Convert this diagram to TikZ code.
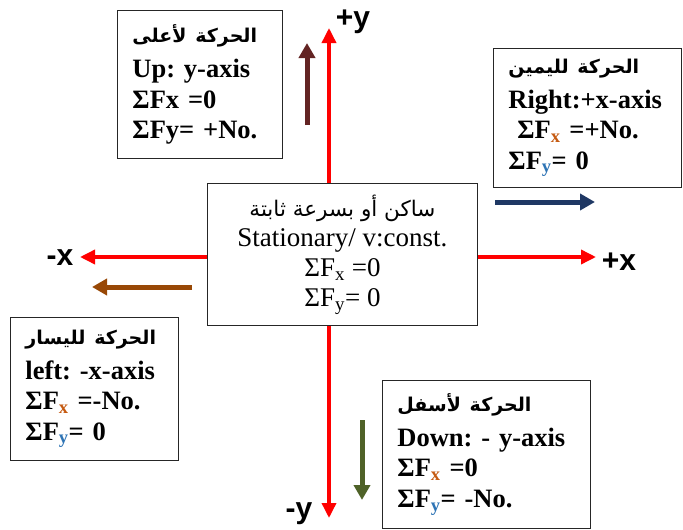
\documentclass[tikz,border=0pt]{standalone}
\usepackage{fontspec}
\setmainfont{Liberation Serif}
\newfontfamily\arabicfont[Script=Arabic]{DejaVu Sans}
\newfontfamily\lblfont{Liberation Sans}
\TeXXeTstate=1
\usetikzlibrary{arrows.meta}
\definecolor{axisred}{HTML}{FF0000}
\definecolor{upbrown}{HTML}{632423}
\definecolor{rightblue}{HTML}{1F3864}
\definecolor{leftbrown}{HTML}{984806}
\definecolor{downgreen}{HTML}{4F6228}
\definecolor{subx}{HTML}{C55A11}
\definecolor{suby}{HTML}{2E74B5}
\newcommand{\ar}[1]{{\arabicfont\fontsize{19}{22}\selectfont\beginR #1\endR}}
\newcommand{\sx}{\textsubscript{\textcolor{subx}{x}}}
\newcommand{\sy}{\textsubscript{\textcolor{suby}{y}}}
\frenchspacing
\tikzset{
  box/.style={draw=black!85, line width=0.9pt, anchor=north west, align=left,
    inner xsep=15pt, inner ysep=0pt,
    font=\bfseries\fontsize{26.5}{30.5}\selectfont},
  axisarrow/.style={draw=axisred, line width=3.5pt, -{Triangle[length=15pt,width=14pt]}},
  motion/.style={line width=5pt, -{Triangle[length=15pt,width=16pt]}},
  axlbl/.style={font=\lblfont\bfseries\fontsize{30}{30}\selectfont, inner sep=0pt}
}
\begin{document}
\begin{tikzpicture}[x=1pt,y=-1pt]
\useasboundingbox (0,0) rectangle (683,530);
% boxes
\node[box, text width=135pt, minimum height=148pt] (tl) at (117,10)
  {\ar{الحركة لأعلى}\\[5pt]Up: y-axis\\ΣFx =0\\ΣFy= +No.};
\node[box, text width=158pt, minimum height=139pt] (rt) at (493,48)
  {\ar{الحركة لليمين}\\[4pt]Right:+x-axis\\ \ ΣF\sx{} =+No.\\ΣF\sy= 0};
\node[box, text width=138pt, minimum height=143pt] (lt) at (10,317)
  {\ar{الحركة لليسار}\\[4pt]left: -x-axis\\ΣF\sx{} =-No.\\ΣF\sy= 0};
\node[box, text width=178pt, minimum height=148pt] (bt) at (382,380)
  {\ar{الحركة لأسفل}\\[4pt]Down: - y-axis\\ΣF\sx{} =0\\ΣF\sy= -No.};
\node[draw=black!85, line width=0.9pt, anchor=north west, align=center,
  minimum width=270pt, minimum height=142pt, inner sep=0pt,
  font=\fontsize{27}{30}\selectfont] (c) at (207,183)
  {{\arabicfont\fontsize{21.5}{24}\selectfont\beginR ساكن أو بسرعة ثابتة\endR}\\Stationary/ v:const.\\ΣF\textsubscript{x} =0\\ΣF\textsubscript{y}= 0};
% axes
\coordinate (ytop) at (329,28);
\coordinate (ybot) at (329,518);
\coordinate (xleft) at (80,257);
\coordinate (xright) at (596,257);
\draw[axisarrow] (c.north -| ytop) -- (ytop);
\draw[axisarrow] (c.south -| ybot) -- (ybot);
\draw[axisarrow] (c.west |- xleft) -- (xleft);
\draw[axisarrow] (c.east |- xright) -- (xright);
% axis labels
\node[axlbl] (py) at (353,22) {+y};
\node[axlbl] (my) at (299,514) {-y};
\node[axlbl] (mx) at (60,258) {-x};
\node[axlbl] (px) at (619,262) {+x};
% motion arrows
\coordinate (u1) at (307,125); \coordinate (u2) at (307,43);
\coordinate (r1) at (495,202); \coordinate (r2) at (595,202);
\coordinate (l1) at (192,287); \coordinate (l2) at (92,287);
\coordinate (d1) at (362,420); \coordinate (d2) at (362,500);
\draw[motion, upbrown] (u1) -- (u2);
\draw[motion, rightblue] (r1) -- (r2);
\draw[motion, leftbrown] (l1) -- (l2);
\draw[motion, downgreen] (d1) -- (d2);
\end{tikzpicture}
\end{document}
